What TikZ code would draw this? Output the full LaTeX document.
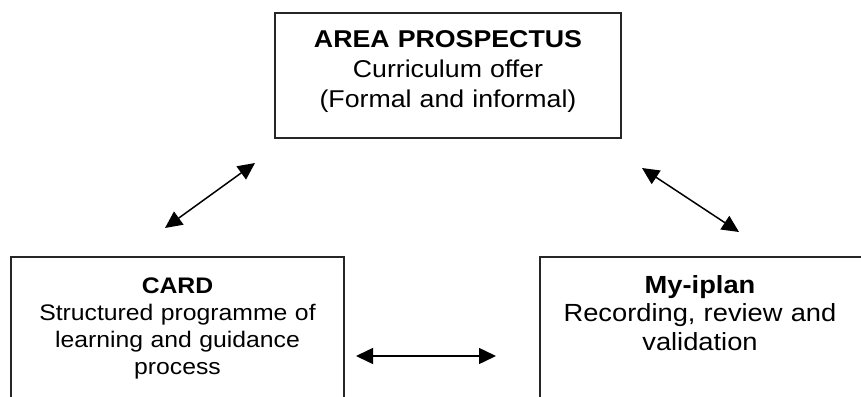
\documentclass[tikz,border=0pt]{standalone}
\usepackage{fontspec}
\setmainfont{Liberation Sans}[FakeStretch=1.1]
\usetikzlibrary{arrows.meta}
\begin{document}
\begin{tikzpicture}[x=1pt,y=-1pt,
  box/.style={draw=black!85,line width=1.1pt,rectangle,inner sep=0pt},
  caption/.style={inner sep=0pt,align=center,anchor=base},
  link/.style={line width=1.5pt,
    {Triangle[length=17pt,width=16pt]}-{Triangle[length=17pt,width=16pt]}}]
\useasboundingbox (0,0) rectangle (861,396);
\clip (0,0) rectangle (861,396);
\fill[white] (0,0) rectangle (861,396);

% the three boxes (the lower two run past the bottom edge)
\node[box,minimum width=346pt,minimum height=125pt] (prosp) at (448,75.5) {};
\node[box,minimum width=333pt,minimum height=170pt] (card) at (177.5,342) {};
\node[box,minimum width=322pt,minimum height=170pt] (iplan) at (701,342) {};

% box captions
\node[caption,text width=340pt,font=\fontsize{24.3}{30}\selectfont] (prospText) at (448,47.5)
  {\textbf{AREA PROSPECTUS}\\Curriculum offer\\(Formal and informal)};
\node[caption,text width=330pt,font=\fontsize{22.5}{27.3}\selectfont] (cardText) at (177.5,293)
  {\textbf{CARD}\\Structured programme of\\learning and guidance\\process};
\node[caption,text width=320pt,font=\fontsize{24.8}{28.5}\selectfont] (iplanText) at (700,293)
  {\textbf{My-iplan}\\Recording, review and\\validation};

% free ends of the two-way arrows
\coordinate (cardTip) at (165,228);
\coordinate (prospTipL) at (255,163);
\coordinate (prospTipR) at (642,168);
\coordinate (iplanTip) at (739,232);
\coordinate (cardSide) at (356,356);
\coordinate (iplanSide) at (496,356);

\draw[link] (cardTip) -- (prospTipL);
\draw[link] (prospTipR) -- (iplanTip);
\draw[link] (cardSide) -- (iplanSide);
\end{tikzpicture}
\end{document}
